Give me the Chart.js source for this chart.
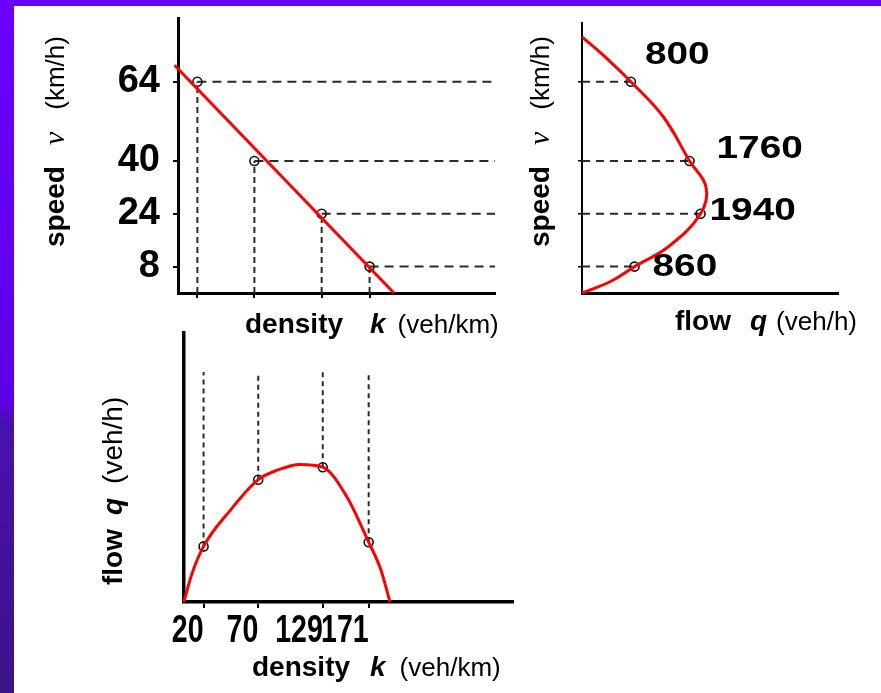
<!DOCTYPE html>
<html>
<head>
<meta charset="utf-8">
<script src="https://cdn.jsdelivr.net/npm/chart.js@4.4.1/dist/chart.umd.min.js"></script>
<style>
  html, body { margin: 0; padding: 0; }
  body { width: 881px; height: 693px; position: relative; overflow: hidden; background: #fff; }
  .band-top { position: absolute; left: 0; top: 0; width: 881px; height: 6px; background: #6600ff; }
  .band-left { position: absolute; left: 0; top: 0; width: 14px; height: 693px;
    background: linear-gradient(to bottom, #6b00ff 0%, #5c00e4 58%, #4a10ae 61%, #3a1488 100%); }
  canvas { position: absolute; }
</style>
</head>
<body>
<div class="band-top"></div>
<div class="band-left"></div>
<canvas id="speedDensity" width="520" height="340" style="left:0;top:0"></canvas>
<canvas id="speedFlow" width="361" height="340" style="left:520px;top:0"></canvas>
<canvas id="flowDensity" width="540" height="373" style="left:0;top:320px"></canvas>
<script>
// gemeten punten
const density = [20, 70, 129, 171];   // k (veh/km)
const speed = [64, 40, 24, 8];        // v (km/h)
const flow = [800, 1760, 1940, 860];  // q (veh/h)

const lineDensity = [0, 192.4];
const lineSpeed = [69, 0];

const curveVQFlow = [0, 404, 800, 1330, 1760, 2029, 1940, 1412, 860, 458, 0];
const curveVQSpeed = [77.6, 71.1, 64, 53.4, 40, 32.1, 24, 14, 8, 3.4, 0];

const curveKQDensity = [2, 9, 20, 45, 70, 88, 108, 129, 151, 171, 182, 190.5];
const curveKQFlow = [0, 390, 800, 1330, 1760, 1900, 1980, 1940, 1515, 860, 470, 0];

Chart.defaults.font.family = '"Liberation Sans", Arial, sans-serif';
Chart.defaults.color = '#000';

const BOLD = '"Liberation Sans", Arial, sans-serif';
const red = '#ff0000';
const dashColor = '#2a2a2a';

const pts = (xs, ys) => xs.map((x, i) => ({ x: x, y: ys[i] }));

// tekst met gemengde fonts voor de astitels
const axisText = {
    id: 'axisText',
    afterDraw(chart, args, opts) {
        const ctx = chart.ctx;
        (opts.items || []).forEach(item => {
            ctx.save();
            ctx.translate(item.x, item.y);
            if (item.rotate) ctx.rotate(-Math.PI / 2);
            ctx.fillStyle = '#000';
            ctx.textBaseline = 'alphabetic';
            ctx.textAlign = 'left';
            let pos = 0;
            item.parts.forEach(p => {
                pos += p.gap || 0;
                ctx.font = p.font;
                ctx.fillText(p.text, pos, 0);
                pos += ctx.measureText(p.text).width;
            });
            ctx.restore();
        });
    }
};

// labels naast de punten (flow)
const pointLabels = {
    id: 'pointLabels',
    afterDatasetsDraw(chart, args, opts) {
        if (!opts.labels) return;
        const ctx = chart.ctx;
        const meta = chart.getDatasetMeta(opts.dataset);
        ctx.save();
        ctx.font = opts.font;
        ctx.fillStyle = '#000';
        ctx.textBaseline = 'middle';
        ctx.textAlign = 'left';
        meta.data.forEach((pt, i) => {
            const off = opts.offsets[i];
            ctx.save();
            ctx.translate(pt.x + off[0], pt.y + off[1]);
            ctx.scale(opts.sx, 1);
            ctx.fillText(opts.labels[i], 0, 0);
            ctx.restore();
        });
        ctx.restore();
    }
};

// smalle, hoge ticklabels op de x-as (zoals in het origineel)
const narrowTicks = {
    id: 'narrowTicks',
    afterDraw(chart, args, opts) {
        if (!opts.font) return;
        const scale = chart.scales.x;
        const ctx = chart.ctx;
        ctx.save();
        ctx.font = opts.font;
        ctx.fillStyle = '#000';
        ctx.textAlign = 'right';
        ctx.textBaseline = 'alphabetic';
        scale.ticks.forEach(t => {
            const px = scale.getPixelForValue(t.value);
            ctx.save();
            ctx.translate(px + opts.shift, scale.top + opts.baseline);
            ctx.scale(opts.sx, 1);
            ctx.fillText(String(t.value), 0, 0);
            ctx.restore();
        });
        ctx.restore();
    }
};

const markerSet = data => ({
    data: data,
    pointRadius: 4.5,
    pointBorderWidth: 1.6,
    pointBorderColor: '#111',
    pointBackgroundColor: 'rgba(0,0,0,0)',
    showLine: false,
});

const dashSet = (data, dash) => ({
    data: data,
    showLine: true,
    borderColor: dashColor,
    borderWidth: 2,
    borderDash: dash,
    pointRadius: 0,
});

const curveSet = (data, extra) => Object.assign({
    data: data,
    showLine: true,
    borderColor: red,
    borderWidth: 3,
    pointRadius: 0,
    clip: 4,
}, extra);

const titleParts = (a, b, c, gap1, gap2, unitSize) => [
    { text: a, font: 'bold 28px ' + BOLD },
    { text: b, font: 'italic bold 28px ' + BOLD, gap: gap1 },
    { text: c, font: (unitSize || 26) + 'px ' + BOLD, gap: gap2 },
];

const speedTitle = [
    { text: 'speed', font: 'bold 28px ' + BOLD },
    { text: 'ν', font: 'italic 30px "Liberation Serif", "DejaVu Serif", serif', gap: 21 },
    { text: '(km/h)', font: '26px ' + BOLD, gap: 22 },
];

const baseOptions = (extra) => Object.assign({
    responsive: false,
    animation: false,
    events: [],
}, extra);

const fixWidth = w => s => { s.width = w; s.paddingTop = 0; s.paddingBottom = 0; };
const fixHeight = h => s => { s.height = h; s.paddingLeft = 0; s.paddingRight = 0; };

// 1: snelheid - dichtheid
const kMax1 = 281;
new Chart(document.getElementById('speedDensity'), {
    type: 'scatter',
    data: {
        datasets: [
            curveSet(pts(lineDensity, lineSpeed), { tension: 0 }),
            markerSet(pts(density, speed)),
            ...density.map((k, i) => dashSet([{ x: k, y: 0 }, { x: k, y: speed[i] }], [6, 4])),
            ...density.map((k, i) => dashSet([{ x: k, y: speed[i] }, { x: kMax1, y: speed[i] }], [9, 6])),
        ]
    },
    options: baseOptions({
        layout: { padding: { top: 18, right: 25, left: 0, bottom: 0 } },
        plugins: {
            legend: { display: false },
            tooltip: { enabled: false },
            axisText: {
                items: [
                    { x: 245, y: 333, parts: titleParts('density', 'k', '(veh/km)', 27, 12) },
                    { x: 64, y: 247, rotate: true, parts: speedTitle },
                ]
            }
        },
        scales: {
            x: {
                type: 'linear', min: 3, max: kMax1,
                afterBuildTicks: s => { s.ticks = density.map(v => ({ value: v })); },
                afterFit: fixHeight(47),
                ticks: { display: false },
                grid: { drawOnChartArea: false, drawTicks: true, tickLength: 5, color: '#000', lineWidth: 2 },
                border: { display: true, color: '#000', width: 3 },
            },
            y: {
                type: 'linear', min: 0, max: 83.3,
                afterBuildTicks: s => { s.ticks = speed.map(v => ({ value: v })); },
                afterFit: fixWidth(178),
                ticks: { padding: 13, autoSkip: false, font: { family: BOLD, weight: 'bold', size: 38, lineHeight: 1 } },
                grid: { drawOnChartArea: false, drawTicks: true, tickLength: 5, color: '#000', lineWidth: 2 },
                border: { display: true, color: '#000', width: 3 },
            }
        }
    }),
    plugins: [axisText]
});

// 2: snelheid - flow
new Chart(document.getElementById('speedFlow'), {
    type: 'scatter',
    data: {
        datasets: [
            curveSet(pts(curveVQFlow, curveVQSpeed), { tension: 0.4 }),
            markerSet(pts(flow, speed)),
            ...flow.map((q, i) => dashSet([{ x: 0, y: speed[i] }, { x: q, y: speed[i] }], [8, 6])),
        ]
    },
    options: baseOptions({
        layout: { padding: { top: 23, right: 43, left: 0, bottom: 0 } },
        plugins: {
            legend: { display: false },
            tooltip: { enabled: false },
            pointLabels: {
                dataset: 1,
                labels: flow.map(String),
                font: 'bold 31px ' + BOLD,
                sx: 1.25,
                offsets: [[14, -26], [27, -12], [9, -2], [18, 1]],
            },
            axisText: {
                items: [
                    { x: 155, y: 330, parts: titleParts('flow', 'q', '(veh/h)', 19, 9) },
                    { x: 29, y: 247, rotate: true, parts: speedTitle },
                ]
            }
        },
        scales: {
            x: {
                type: 'linear', min: 0, max: 4189,
                afterFit: fixHeight(47),
                ticks: { display: false },
                grid: { display: false },
                border: { display: true, color: '#000', width: 3 },
            },
            y: {
                type: 'linear', min: 0, max: 81.8,
                afterBuildTicks: s => { s.ticks = speed.map(v => ({ value: v })); },
                afterFit: fixWidth(62),
                ticks: { display: false },
                grid: { drawOnChartArea: false, drawTicks: true, tickLength: 4, color: '#000', lineWidth: 1.5 },
                border: { display: true, color: '#000', width: 2 },
            }
        }
    }),
    plugins: [axisText, pointLabels]
});

// 3: flow - dichtheid
const guideTop = 3310;
new Chart(document.getElementById('flowDensity'), {
    type: 'scatter',
    data: {
        datasets: [
            curveSet(pts(curveKQDensity, curveKQFlow), { cubicInterpolationMode: 'monotone' }),
            markerSet(pts(density, flow)),
            ...density.map((k, i) => dashSet([{ x: k, y: flow[i] }, { x: k, y: guideTop }], [5, 4])),
        ]
    },
    options: baseOptions({
        layout: { padding: { top: 13, right: 27, left: 0, bottom: 0 } },
        plugins: {
            legend: { display: false },
            tooltip: { enabled: false },
            narrowTicks: {
                font: 'bold 38px ' + BOLD,
                sx: 0.75,
                shift: 0,
                baseline: 40,
            },
            axisText: {
                items: [
                    { x: 252, y: 356, parts: titleParts('density', 'k', '(veh/km)', 20, 14) },
                    { x: 122, y: 265, rotate: true, parts: titleParts('flow', 'q', '(veh/h)', 14, 14, 28) },
                ]
            }
        },
        scales: {
            x: {
                type: 'linear', min: 2.1, max: 303,
                afterBuildTicks: s => { s.ticks = density.map(v => ({ value: v })); },
                afterFit: fixHeight(91),
                ticks: { display: false },
                grid: { drawOnChartArea: false, drawTicks: true, tickLength: 6, color: '#000', lineWidth: 2 },
                border: { display: true, color: '#000', width: 3.5 },
            },
            y: {
                type: 'linear', min: 0, max: 3871,
                afterFit: fixWidth(184),
                ticks: { display: false },
                grid: { display: false },
                border: { display: true, color: '#000', width: 3.5 },
            }
        }
    }),
    plugins: [axisText, narrowTicks]
});
</script>
</body>
</html>
